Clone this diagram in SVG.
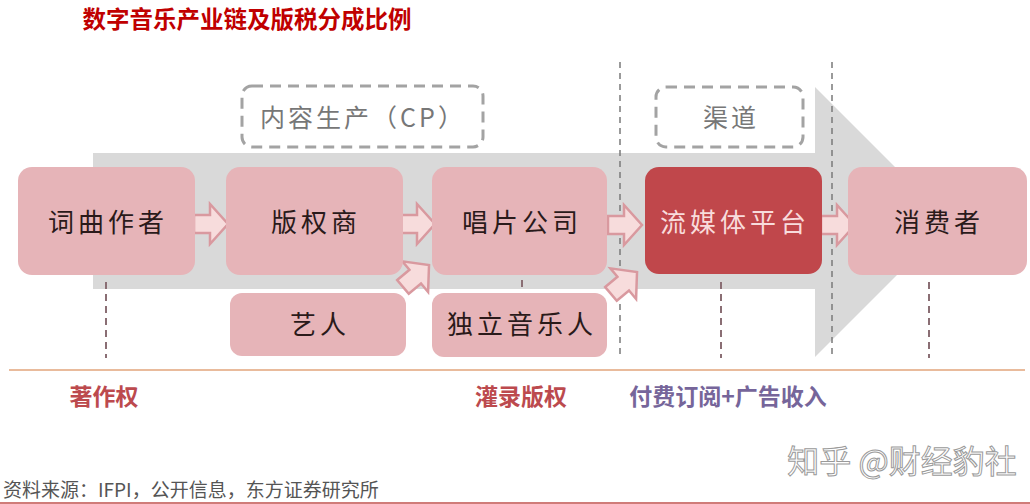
<svg xmlns="http://www.w3.org/2000/svg" width="1030" height="504" viewBox="0 0 1030 504">
<defs>
<style>
.box{fill:#e6b4b8;}
.hl{fill:#c0474b;}
.lbl{font-family:"Noto Sans CJK SC","Noto Sans",sans-serif;font-size:26px;fill:#2a1a1a;text-anchor:middle;letter-spacing:4px;}
.lblw{fill:#f8dcdc;}
.dash{fill:none;stroke:#a3a3a3;stroke-width:3;stroke-dasharray:11 7;}
.dtxt{font-family:"Noto Sans CJK SC","Noto Sans",sans-serif;font-size:25px;fill:#777;text-anchor:middle;letter-spacing:3px;}
.vl{stroke:#7a7a7a;stroke-width:1.5;stroke-dasharray:6 5;}
.vs{stroke:#8a6e74;stroke-width:2;stroke-dasharray:7 5;}
.blk{fill:#f7dcdc;stroke:#d9999f;stroke-width:2.5;stroke-linejoin:miter;}
.bot{font-family:"Noto Sans CJK SC","Noto Sans",sans-serif;font-size:23px;font-weight:700;}
</style>
<path id="ba" d="M-17,-9 H-1 V-20 L17,0 L-1,20 V9 H-17 Z"/>
</defs>
<rect width="1030" height="504" fill="#ffffff"/>
<text x="247" y="28" font-family="'Noto Sans CJK SC','Noto Sans',sans-serif" font-size="23.5" font-weight="700" fill="#c00000" text-anchor="middle">数字音乐产业链及版税分成比例</text>
<g id="bigarrow">
<path d="M93,153 H815 V87 L950,222 L815,357 V289 H93 Z" fill="#d9d9d9"/>
</g>
<g id="cp-label">
<rect x="242" y="86" width="241" height="61" rx="10" class="dash"/>
<text x="363" y="127" class="dtxt">内容生产（CP）</text>
</g>
<g id="channel-label">
<rect x="656" y="87" width="147" height="60" rx="10" fill="#ffffff" class="dash"/>
<text x="731" y="127" class="dtxt">渠道</text>
</g>
<g id="connectors">
<line x1="620" y1="62" x2="620" y2="358" class="vl"/>
<line x1="832" y1="62" x2="832" y2="358" class="vl"/>
<line x1="106" y1="282" x2="106" y2="358" class="vs"/>
<line x1="522" y1="280" x2="522" y2="290" class="vs"/>
<line x1="721" y1="282" x2="721" y2="358" class="vs"/>
<line x1="929" y1="282" x2="929" y2="358" class="vs"/>
<use href="#ba" x="211" y="224" class="blk"/>
<use href="#ba" x="418" y="224" class="blk"/>
<use href="#ba" x="625" y="225" class="blk"/>
<use href="#ba" x="838" y="225" class="blk"/>
<use href="#ba" transform="translate(416,276) rotate(-40)" class="blk"/>
<use href="#ba" transform="translate(624,283) rotate(-40)" class="blk"/>
</g>
<g id="n-writer"><rect x="18" y="167" width="177" height="108" rx="14" class="box"/><text x="108" y="232" class="lbl">词曲作者</text></g>
<g id="n-publisher"><rect x="226" y="167" width="177" height="108" rx="14" class="box"/><text x="316" y="232" class="lbl">版权商</text></g>
<g id="n-label"><rect x="432" y="167" width="175" height="108" rx="14" class="box"/><text x="522" y="232" class="lbl">唱片公司</text></g>
<g id="n-stream"><rect x="645" y="167" width="177" height="107" rx="14" class="hl"/><text x="735" y="232" class="lbl lblw">流媒体平台</text></g>
<g id="n-consumer"><rect x="848" y="167" width="179" height="108" rx="14" class="box"/><text x="939" y="232" class="lbl">消费者</text></g>
<g id="n-artist"><rect x="230" y="293" width="176" height="63" rx="12" class="box"/><text x="320" y="334" class="lbl">艺人</text></g>
<g id="n-indie"><rect x="432" y="293" width="175" height="64" rx="12" class="box"/><text x="522" y="334" class="lbl">独立音乐人</text></g>
<line x1="9" y1="370" x2="1025" y2="370" stroke="#e9bb9c" stroke-width="2"/>
<text x="104" y="405" class="bot" fill="#bc4a4e" text-anchor="middle">著作权</text>
<text x="521" y="405" class="bot" fill="#bc4a4e" text-anchor="middle">灌录版权</text>
<text x="728" y="405" class="bot" fill="#76659a" text-anchor="middle">付费订阅+广告收入</text>
<text x="902" y="473" font-family="'Noto Sans CJK SC','Noto Sans',sans-serif" font-size="32" fill="#ffffff" stroke="#9a9a9a" stroke-width="1" text-anchor="middle">知乎 @财经豹社</text>
<text x="3" y="497" font-family="'Noto Sans CJK SC','Noto Sans',sans-serif" font-size="19" fill="#555555">资料来源：IFPI，公开信息，东方证券研究所</text>
<line x1="0" y1="503" x2="1030" y2="503" stroke="#c0504d" stroke-width="1.5"/>
</svg>
